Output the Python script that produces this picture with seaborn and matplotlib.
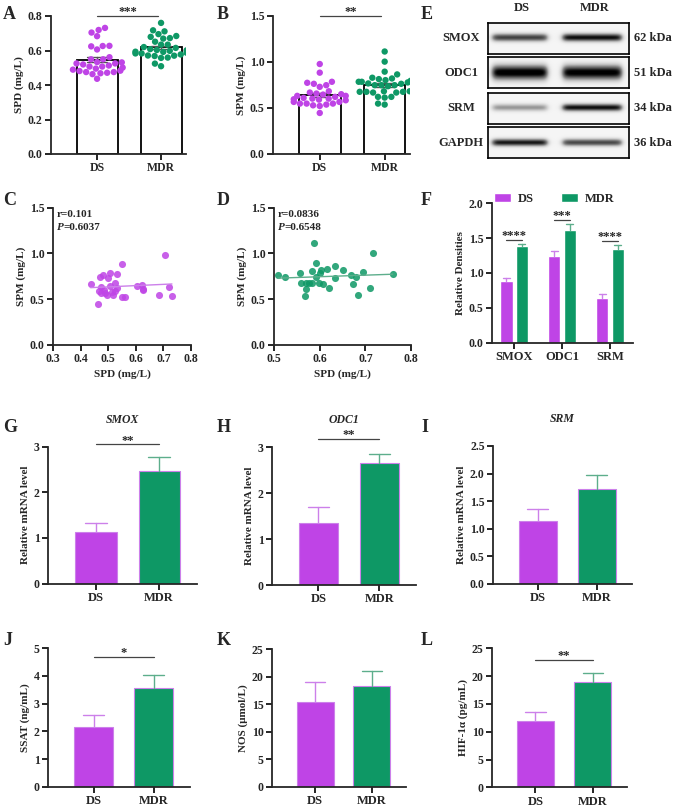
import numpy as np
import pandas as pd
import matplotlib
matplotlib.use('Agg')
import matplotlib.pyplot as plt
import seaborn as sns

# ---- data ----
groups = ['DS', 'MDR']

# paired SPD / SPM values per patient (used in A, B, C, D)
ds_spd = [0.436, 0.463, 0.471, 0.481, 0.507, 0.501, 0.533, 0.549, 0.525, 0.507,
          0.475, 0.483, 0.475, 0.489, 0.495, 0.513, 0.525, 0.531, 0.519, 0.549,
          0.561, 0.606, 0.624, 0.626, 0.627, 0.704, 0.683, 0.719, 0.731, 0.468]
ds_spm = [0.668, 0.446, 0.748, 0.763, 0.785, 0.730, 0.774, 0.884, 0.682, 0.646,
          0.632, 0.602, 0.566, 0.566, 0.548, 0.584, 0.595, 0.621, 0.548, 0.522,
          0.529, 0.650, 0.657, 0.602, 0.610, 0.978, 0.548, 0.632, 0.537, 0.591]
mdr_spd = [0.509, 0.524, 0.557, 0.559, 0.570, 0.568, 0.571, 0.577, 0.583, 0.587,
           0.583, 0.593, 0.592, 0.598, 0.603, 0.601, 0.608, 0.615, 0.620, 0.634,
           0.634, 0.651, 0.669, 0.672, 0.679, 0.684, 0.695, 0.717, 0.711, 0.760]
mdr_spm = [0.763, 0.748, 0.785, 0.682, 0.682, 0.537, 0.613, 0.676, 0.676, 1.114,
           0.803, 0.895, 0.748, 0.676, 0.821, 0.785, 0.668, 0.829, 0.621, 0.865,
           0.737, 0.814, 0.767, 0.668, 0.748, 0.548, 0.796, 1.004, 0.621, 0.778]
corr_ds = ('0.101', '0.6037')
corr_mdr = ('0.0836', '0.6548')

# western blot (band darkness 0..1)
wb_proteins = ['SMOX', 'ODC1', 'SRM', 'GAPDH']
wb_kda = ['62 kDa', '51 kDa', '34 kDa', '36 kDa']
wb_ds = [0.72, 0.97, 0.42, 0.85]
wb_mdr = [0.88, 0.95, 0.88, 0.70]

# relative densities (F)
f_genes = ['SMOX', 'ODC1', 'SRM']
f_ds_mean = [0.88, 1.25, 0.64]
f_ds_sem = [0.045, 0.07, 0.055]
f_mdr_mean = [1.39, 1.62, 1.35]
f_mdr_sem = [0.025, 0.08, 0.045]
f_stars = ['****', '***', '****']

# mRNA (G, H, I) and ELISA (J, K, L): means and SEM for DS, MDR
smox_mean, smox_sem = [1.12, 2.47], [0.21, 0.30]
odc1_mean, odc1_sem = [1.35, 2.65], [0.35, 0.20]
srm_mean, srm_sem = [1.15, 1.73], [0.20, 0.24]
ssat_mean, ssat_sem = [2.16, 3.57], [0.42, 0.47]
nos_mean, nos_sem = [15.45, 18.35], [3.55, 2.65]
hif_mean, hif_sem = [11.98, 18.9], [1.52, 1.70]

# ---- style ----
sns.set_theme(style='ticks')
plt.rcParams['font.family'] = ['Liberation Serif', 'DejaVu Serif']
plt.rcParams['font.weight'] = 'bold'
plt.rcParams['axes.labelweight'] = 'bold'
plt.rcParams['axes.linewidth'] = 1.3

purple = '#BF44E6'
green = '#0E9865'
purple_l = '#CC80EA'
green_l = '#5DAE8C'

W, H = 676, 809
fig = plt.figure(figsize=(W / 100, H / 100), dpi=100)


def rect(l, t, r, b):
    return [l / W, 1 - b / H, (r - l) / W, (b - t) / H]


def style(ax, ylabel):
    sns.despine(ax=ax)
    ax.tick_params(width=1.2, length=4, labelsize=8.5, pad=2, color='black')
    ax.set_xlabel('')
    ax.set_ylabel(ylabel, fontsize=8, labelpad=3)


def sig(ax, x0, x1, y, text):
    ax.plot([x0, x1], [y, y], color='#444444', lw=0.9, clip_on=False)
    ax.annotate(text, xy=((x0 + x1) / 2, y), xytext=(0, -1.5), textcoords='offset points',
                ha='center', va='bottom', fontsize=9, annotation_clip=False)


def letter(x, y, s):
    fig.text(x / W, 1 - y / H, s, fontsize=13, fontweight='bold', ha='left', va='top')


def top_errbars(ax, bars, sems, colors):
    for bar, s, c in zip(bars, sems, colors):
        x = bar.get_x() + bar.get_width() / 2
        h = bar.get_height()
        w = bar.get_width() * 0.27
        ax.plot([x, x], [h, h + s], color=c, lw=1)
        ax.plot([x - w, x + w], [h + s, h + s], color=c, lw=1)


# ---- A, B: bar + swarm ----
def dot_bar(pos, a, b, ylabel, ylim, yticks, fmt, stars):
    ax = fig.add_axes(rect(*pos))
    df = pd.DataFrame({'group': ['DS'] * len(a) + ['MDR'] * len(b), 'value': a + b})
    sns.barplot(data=df, x='group', y='value', color='white', saturation=1, edgecolor='black',
                linewidth=1.3, width=0.64, errorbar='se', capsize=0.3,
                err_kws={'color': '#555555', 'linewidth': 1}, ax=ax)
    sns.swarmplot(data=df, x='group', y='value', hue='group', palette=[purple, green],
                  size=4.6, legend=False, ax=ax, zorder=3)
    ax.set_ylim(*ylim)
    ax.set_yticks(yticks)
    ax.set_yticklabels([fmt.format(t) for t in yticks])
    ax.set_xlim(-0.72, 1.39)
    style(ax, ylabel)
    sig(ax, 0, 0.95, ylim[1], stars)
    return ax


dot_bar((51, 16, 186, 154), ds_spd, mdr_spd, 'SPD (mg/L)', (0, 0.8),
        [0, 0.2, 0.4, 0.6, 0.8], '{:.1f}', '***')
dot_bar((273, 16, 410, 154), ds_spm, mdr_spm, 'SPM (mg/L)', (0, 1.5),
        [0, 0.5, 1.0, 1.5], '{:.1f}', '**')

# ---- E: western blot ----
band_sigma = [0.13, 0.24, 0.12, 0.12]
row_tops = [22.7, 57.3, 92.7, 127.3]
row_h = 30.8
xs = np.linspace(0, 1, 300)
ys = np.linspace(0, 1, 60)
X, Y = np.meshgrid(xs, ys)


def lane(a, b):
    return 1 / (1 + np.exp(-(X - a) / 0.012)) / (1 + np.exp((X - b) / 0.012))


for i, prot in enumerate(wb_proteins):
    ax = fig.add_axes(rect(488, row_tops[i], 629, row_tops[i] + row_h))
    prof = np.exp(-((Y - 0.5) / band_sigma[i]) ** 2)
    img = 0.08 + prof * (wb_ds[i] * lane(0.03, 0.42) + wb_mdr[i] * lane(0.53, 0.95))
    ax.imshow(img, cmap='Greys', vmin=0, vmax=1, aspect='auto', extent=(0, 1, 0, 1))
    ax.set_xticks([])
    ax.set_yticks([])
    for s in ax.spines.values():
        s.set_linewidth(1.2)
        s.set_color('black')
    ax.text(-0.19, 0.5, prot, transform=ax.transAxes, ha='center', va='center', fontsize=9)
    ax.text(1.035, 0.5, wb_kda[i], transform=ax.transAxes, ha='left', va='center', fontsize=9)
    if i == 0:
        for g, xc in zip(groups, [0.24, 0.76]):
            ax.text(xc, 1.47, g, transform=ax.transAxes, ha='center', va='center', fontsize=9)

# ---- C, D: correlations ----
def corr(pos, x, y, color, lcolor, xlim, xticks, stats):
    ax = fig.add_axes(rect(*pos))
    sns.regplot(x=x, y=y, ci=None, truncate=True, ax=ax,
                scatter_kws=dict(s=26, color=color, alpha=0.85, linewidths=0),
                line_kws=dict(color=lcolor, lw=1))
    ax.set_xlim(*xlim)
    ax.set_xticks(xticks)
    ax.set_xticklabels(['{:.1f}'.format(t) for t in xticks])
    ax.set_ylim(0, 1.5)
    ax.set_yticks([0, 0.5, 1.0, 1.5])
    ax.set_yticklabels(['0.0', '0.5', '1.0', '1.5'])
    style(ax, 'SPM (mg/L)')
    ax.set_xlabel('SPD (mg/L)', fontsize=8, labelpad=3)
    ax.text(0.03, 0.95, 'r=' + stats[0], transform=ax.transAxes, ha='left', va='center', fontsize=8)
    t = ax.text(0.03, 0.855, 'P', transform=ax.transAxes, ha='left', va='center',
                fontsize=8, fontstyle='italic')
    ax.annotate('=' + stats[1], xy=(1, 0), xycoords=t, ha='left', va='bottom', fontsize=8)


corr((53, 207.7, 191, 345), ds_spd, ds_spm, purple, purple_l, (0.3, 0.8),
     [0.3, 0.4, 0.5, 0.6, 0.7, 0.8], corr_ds)
corr((274, 207.7, 411, 345), mdr_spd, mdr_spm, green, green_l, (0.5, 0.8),
     [0.5, 0.6, 0.7, 0.8], corr_mdr)

# ---- F: relative densities ----
ax = fig.add_axes(rect(492, 203.3, 633, 342.5))
df_f = pd.DataFrame({'gene': f_genes * 2,
                     'group': ['DS'] * 3 + ['MDR'] * 3,
                     'value': f_ds_mean + f_mdr_mean})
sns.barplot(data=df_f, x='gene', y='value', hue='group', palette=[purple, green], saturation=1,
            width=0.65, gap=0.2, errorbar=None, ax=ax)
conts = ax.containers
top_errbars(ax, conts[0], f_ds_sem, [purple_l] * 3)
top_errbars(ax, conts[1], f_mdr_sem, [green_l] * 3)
for b0, b1, st, s1 in zip(conts[0], conts[1], f_stars, f_mdr_sem):
    x0 = b0.get_x() + b0.get_width() / 2
    x1 = b1.get_x() + b1.get_width() / 2
    sig(ax, x0, x1, b1.get_height() + s1 + 0.06, st)
ax.set_xlim(-0.46, 2.48)
ax.set_ylim(0, 2.0)
ax.set_yticks([0, 0.5, 1.0, 1.5, 2.0])
ax.set_yticklabels(['0.0', '0.5', '1.0', '1.5', '2.0'])
style(ax, 'Relative Densities')
ax.tick_params(axis='x', labelsize=9)
ax.legend(loc='center', bbox_to_anchor=(0.44, 1.03), ncol=2, frameon=False, fontsize=9,
          handlelength=1.4, handleheight=0.75, columnspacing=2.2, handletextpad=0.5)

# ---- G-L: simple bar panels ----
def simple_bar(pos, means, sems, ylabel, ylim, yticks, fmt, title=None, stars=None, sig_y=None):
    ax = fig.add_axes(rect(*pos))
    sns.barplot(x=groups, y=means, hue=groups, palette=[purple, green], saturation=1,
                width=0.65, legend=False, ax=ax, edgecolor=[purple_l, green_l], linewidth=0.8)
    top_errbars(ax, ax.patches, sems, [purple_l, green_l])
    ax.set_ylim(*ylim)
    ax.set_yticks(yticks)
    ax.set_yticklabels([fmt.format(t) for t in yticks])
    ax.set_xlim(-0.76, 1.6)
    style(ax, ylabel)
    ax.tick_params(axis='x', labelsize=9)
    if title:
        ax.set_title(title, fontsize=8.5, fontstyle='italic', fontweight='bold', pad=17)
    if stars:
        sig(ax, 0, 1, sig_y, stars)
    return ax


simple_bar((48, 446.7, 197, 583.5), smox_mean, smox_sem, 'Relative mRNA level', (0, 3),
           [0, 1, 2, 3], '{:d}', 'SMOX', '**', 3.05)
simple_bar((272, 447, 416, 585), odc1_mean, odc1_sem, 'Relative mRNA level', (0, 3),
           [0, 1, 2, 3], '{:d}', 'ODC1', '**', 3.17)
simple_bar((493, 446, 632, 584), srm_mean, srm_sem, 'Relative mRNA level', (0, 2.5),
           [0, 0.5, 1.0, 1.5, 2.0, 2.5], '{:.1f}', 'SRM')
simple_bar((48, 648.3, 190, 786.7), ssat_mean, ssat_sem, 'SSAT (ng/mL)', (0, 5),
           [0, 1, 2, 3, 4, 5], '{:d}', None, '*', 4.68)
simple_bar((272, 649, 406, 786.7), nos_mean, nos_sem, 'NOS (μmol/L)', (0, 25),
           [0, 5, 10, 15, 20, 25], '{:d}')
simple_bar((492, 648.3, 627, 787.3), hif_mean, hif_sem, 'HIF-1α (pg/mL)', (0, 25),
           [0, 5, 10, 15, 20, 25], '{:d}', None, '**', 22.9)

for x, y, s in [(3, 6, 'A'), (217, 6, 'B'), (421, 6, 'E'),
                (3, 192, 'C'), (217, 192, 'D'), (421, 192, 'F'),
                (3, 419, 'G'), (217, 419, 'H'), (421, 419, 'I'),
                (3, 632, 'J'), (217, 632, 'K'), (421, 632, 'L')]:
    letter(x, y, s)

fig.savefig('out.png', dpi=100)
